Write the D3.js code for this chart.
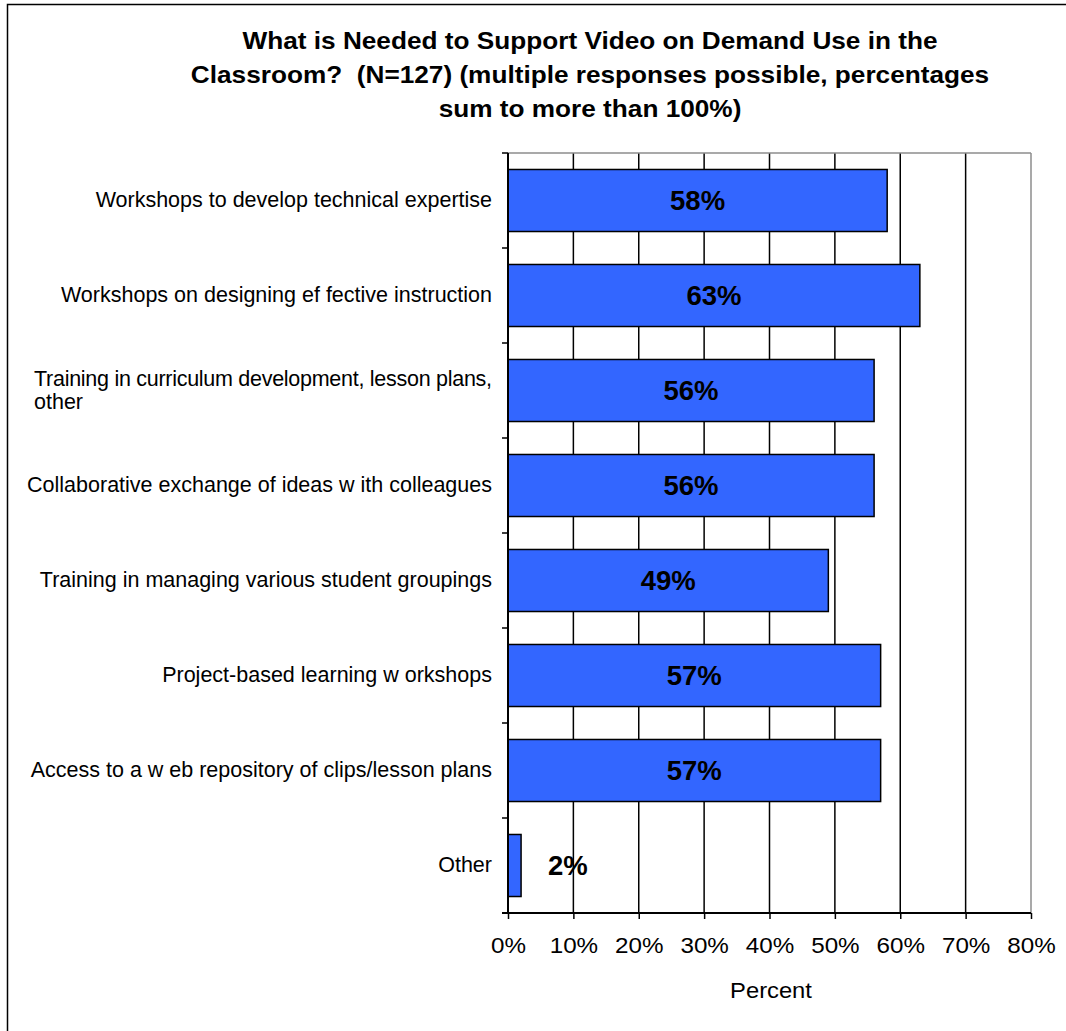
<!DOCTYPE html>
<html>
<head>
<meta charset="utf-8">
<script src="https://cdn.jsdelivr.net/npm/d3@7"></script>
<style>
  html, body { margin: 0; padding: 0; background: #ffffff; }
  svg { display: block; }
  text { font-family: "Liberation Sans", Arial, sans-serif; fill: #000; }
</style>
</head>
<body>
<svg id="chart" width="1066" height="1031"></svg>
<script>
const categories = [
  "Workshops to develop technical expertise",
  "Workshops on designing ef fective instruction",
  "Training in curriculum development, lesson plans, other",
  "Collaborative exchange of ideas w ith colleagues",
  "Training in managing various student groupings",
  "Project-based learning w orkshops",
  "Access to a w eb repository of clips/lesson plans",
  "Other"
];
const values = [58, 63, 56, 56, 49, 57, 57, 2];
const xTicks = [0, 10, 20, 30, 40, 50, 60, 70, 80];
const titleLines = [
  "What is Needed to Support Video on Demand Use in the",
  "Classroom?  (N=127) (multiple responses possible, percentages",
  "sum to more than 100%)"
];
const xAxisTitle = "Percent";

const svg = d3.select("#chart");
const plot = { left: 508, right: 1031, top: 153, bottom: 913 };

// outer frame (left and top visible)
svg.append("rect").attr("x", 7.5).attr("y", 4.5).attr("width", 1200).attr("height", 1200)
  .attr("fill", "none").attr("stroke", "#000").attr("stroke-width", 1.5);

// title
const titleG = svg.append("g");
titleLines.forEach((t, i) => {
  titleG.append("text")
    .attr("transform", `translate(590,${49 + i * 34}) scale(1.115,1)`)
    .attr("text-anchor", "middle").attr("font-size", 23.5).attr("font-weight", "bold")
    .attr("xml:space", "preserve").style("white-space", "pre").text(t);
});

const x = d3.scaleLinear().domain([0, 80]).range([plot.left, plot.right]);
const y = d3.scaleBand().domain(categories).range([plot.top, plot.bottom]).paddingInner(0.347).paddingOuter(0.1735);

// gridlines
svg.append("g").selectAll("line").data(xTicks.filter(d => d > 0 && d < 80)).join("line")
  .attr("x1", d => x(d)).attr("x2", d => x(d)).attr("y1", plot.top).attr("y2", plot.bottom)
  .attr("stroke", "#000").attr("stroke-width", 1.5);

// plot border top & right (gray)
svg.append("line").attr("x1", plot.left).attr("x2", plot.right).attr("y1", plot.top).attr("y2", plot.top)
  .attr("stroke", "#8c8c8c").attr("stroke-width", 1.5);
svg.append("line").attr("x1", plot.right).attr("x2", plot.right).attr("y1", plot.top).attr("y2", plot.bottom)
  .attr("stroke", "#8c8c8c").attr("stroke-width", 1.5);

// bars
svg.append("g").selectAll("rect").data(values).join("rect")
  .attr("x", x(0))
  .attr("y", (d, i) => y(categories[i]))
  .attr("width", d => x(d) - x(0))
  .attr("height", y.bandwidth())
  .attr("fill", "#3366ff").attr("stroke", "#000").attr("stroke-width", 1.5);

// value labels
svg.append("g").selectAll("text").data(values).join("text")
  .attr("x", d => (x(d) - x(0) > 80) ? (x(0) + x(d)) / 2 : x(d) + 27)
  .attr("y", (d, i) => y(categories[i]) + y.bandwidth() / 2)
  .attr("dy", "0.36em")
  .attr("text-anchor", d => (x(d) - x(0) > 80) ? "middle" : "start")
  .attr("font-size", 27.5).attr("font-weight", "bold")
  .text(d => d + "%");

// x axis
const xAxis = d3.axisBottom(x).tickValues(xTicks).tickFormat(d => d + "%").tickSize(6).tickPadding(18);
const gx = svg.append("g").attr("transform", `translate(0,${plot.bottom})`).call(xAxis);
gx.select(".domain").attr("stroke", "#000").attr("stroke-width", 2).attr("d", `M${plot.left - 6},0H${plot.right}`);
gx.selectAll(".tick line").attr("stroke", "#000").attr("stroke-width", 1.5);
gx.selectAll(".tick text").attr("font-size", 22).attr("font-family", "Liberation Sans, Arial, sans-serif")
  .attr("fill", "#000").attr("transform", "scale(1.1,1)");

// y axis: category boundary ticks
const yAxisG = svg.append("g");
yAxisG.append("line").attr("x1", plot.left).attr("x2", plot.left).attr("y1", plot.top).attr("y2", plot.bottom)
  .attr("stroke", "#000").attr("stroke-width", 2);
const boundaries = d3.range(categories.length + 1).map(i => plot.top + i * (plot.bottom - plot.top) / categories.length);
yAxisG.selectAll("line.tk").data(boundaries).join("line").attr("class", "tk")
  .attr("x1", plot.left - 6).attr("x2", plot.left).attr("y1", d => d).attr("y2", d => d)
  .attr("stroke", "#000").attr("stroke-width", 1.5);

// category labels
const labelG = svg.append("g");
const fs = 21.5;
categories.forEach((c, i) => {
  const cy = y(c) + y.bandwidth() / 2 - 1;
  const g = labelG.append("g").attr("transform", `translate(492,${cy})`);
  if (c.length > 50) {
    const parts = ["Training in curriculum development, lesson plans,", "other"];
    const first = g.append("text").attr("x", 0).attr("y", -11.5).attr("dy", "0.35em")
      .attr("text-anchor", "end").attr("font-size", fs).attr("textLength", 458).attr("lengthAdjust", "spacing").text(parts[0]);
    g.append("text").attr("x", -458).attr("y", 12).attr("dy", "0.35em")
      .attr("text-anchor", "start").attr("font-size", fs).text(parts[1]);
  } else {
    g.append("text").attr("x", 0).attr("y", 0).attr("dy", "0.35em")
      .attr("text-anchor", "end").attr("font-size", fs).text(c);
  }
});

// axis title
svg.append("text").attr("transform", "translate(771,998) scale(1.08,1)")
  .attr("text-anchor", "middle").attr("font-size", 22).text(xAxisTitle);
</script>
</body>
</html>
